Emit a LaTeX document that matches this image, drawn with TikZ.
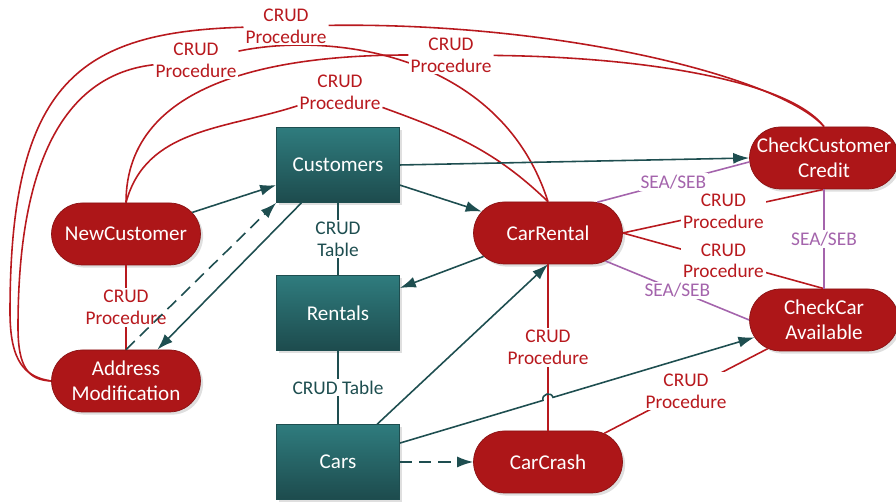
\documentclass[tikz,border=0pt]{standalone}
\usepackage{fontspec}
\setmainfont{Carlito}
\usetikzlibrary{arrows.meta, positioning, shapes.misc, shadows, backgrounds}

\definecolor{procred}{HTML}{AD1618}
\definecolor{procedge}{HTML}{8A1214}
\definecolor{tabtop}{HTML}{2F7C7E}
\definecolor{tabbot}{HTML}{1D4B4D}
\definecolor{tabline}{HTML}{1E4E50}
\definecolor{crudred}{HTML}{B8191E}
\definecolor{seapurple}{HTML}{A464AC}

\begin{document}
\begin{tikzpicture}[
  x=0.02cm, y=0.02cm,
  proc/.style={rounded rectangle, draw=procedge, fill=procred, text=white, minimum width=3.12cm, minimum height=1.24cm, align=center, font=\fontsize{12}{14}\selectfont, inner sep=2pt, drop shadow={opacity=0.25, shadow xshift=1.5pt, shadow yshift=-1.5pt}},
  tbl/.style={rectangle, draw=tabline, top color=tabtop, bottom color=tabbot, text=white, minimum width=2.46cm, minimum height=1.5cm, font=\fontsize{12}{14}\selectfont, drop shadow={opacity=0.25, shadow xshift=1.5pt, shadow yshift=-1.5pt}},
  lbl/.style={fill=white, inner sep=1pt, align=center, font=\fontsize{11}{12.5}\selectfont},
  crud/.style={draw=crudred, line width=0.9pt, text=crudred},
  sea/.style={draw=seapurple, line width=0.9pt, text=seapurple},
  tab/.style={draw=tabline, line width=0.9pt, text=tabline},
  arr/.style={-{Latex[length=3.2mm,width=2.2mm]}, draw=tabline, line width=0.9pt}
]
\useasboundingbox (0,0) rectangle (896,502);

% processes
\node[proc] (newc)   at (126,268) {NewCustomer};
\node[proc] (amod)   at (126,121) {Address\\Modification};
\node[proc] (crent)  at (548,269) {CarRental};
\node[proc] (ccrash) at (548,40)  {CarCrash};
\node[proc] (ccc)    at (824,344) {CheckCustomer\\Credit};
\node[proc] (cca)    at (824,182) {CheckCar\\Available};

% tables
\node[tbl] (cust) at (338,337) {Customers};
\node[tbl] (rent) at (338,189) {Rentals};
\node[tbl] (cars) at (338,40)  {Cars};

% labels of the long procedure links
\node[lbl, text=crudred] (lblA) at (286,476) {CRUD\\Procedure};
\node[lbl, text=crudred] (lblB) at (196,442) {CRUD\\Procedure};
\node[lbl, text=crudred] (lblC) at (451,447) {CRUD\\Procedure};
\node[lbl, text=crudred] (lblD) at (340,410) {CRUD\\Procedure};

\begin{scope}[on background layer]
\draw[crud] (amod.west) .. controls (25,125) and (10,140) .. (10,190)
  .. controls (10,420) and (80,470) .. (lblA)
  .. controls (560,480) and (780,425) .. (ccc.north);
\draw[crud] (amod.west) .. controls (28,122) and (18,135) .. (18,175)
  .. controls (18,380) and (90,430) .. (lblB)
  .. controls (330,470) and (500,450) .. (crent.north);
\draw[crud] (newc.north) to[out=90,in=180] (lblC)
  .. controls (650,445) and (790,420) .. (ccc.north);
\draw[crud] (newc.north) to[out=75,in=198] (lblD) to[out=-20,in=136] (crent.north);
\end{scope}

% table links
\draw[tab] (cust.south) -- node[lbl] {CRUD\\Table} (rent.north);
\draw[tab] (rent.south) -- node[lbl] {CRUD Table} (cars.north);

% procedure links
\draw[crud] (newc.south) -- node[lbl] {CRUD\\Procedure} (amod.north);
\draw[crud] (crent.south) -- node[lbl] {CRUD\\Procedure} (ccrash.north);
\draw[crud] (ccrash.27) -- node[lbl] {CRUD\\Procedure} (cca.207);
\draw[crud] (crent.east) -- node[lbl] {CRUD\\Procedure} (ccc.south);
\draw[crud] (crent.east) -- node[lbl] {CRUD\\Procedure} (cca.north);

% SEA/SEB links
\draw[sea] (crent.32) -- node[lbl] {SEA/SEB} (ccc.183);
\draw[sea] (crent.-26) -- node[lbl] {SEA/SEB} (cca.west);
\draw[sea] (ccc.south) -- node[lbl] {SEA/SEB} (cca.north);

% data flow
\draw[arr] (newc) -- (cust);
\draw[arr, dash pattern=on 7pt off 4pt] (amod.north) -- (cust.south west);
\draw[arr] (cust.226) -- (amod.45);
\draw[arr] (cust.east) -- (ccc.west);
\draw[arr] (cust.-18) -- (crent);
\draw[arr] (crent.200) -- (rent.22);
\draw[arr] (cars.44) -- (crent.south);
\coordinate (hopA) at (543,101.6);
\coordinate (hopB) at (553,104.6);
\draw[arr] (cars.17) -- (hopA) to[out=106.6,in=106.6,looseness=1.6] (hopB) -- (cca.194);
\draw[arr, dash pattern=on 7pt off 4pt] (cars.east) -- (ccrash.west);
\end{tikzpicture}
\end{document}
